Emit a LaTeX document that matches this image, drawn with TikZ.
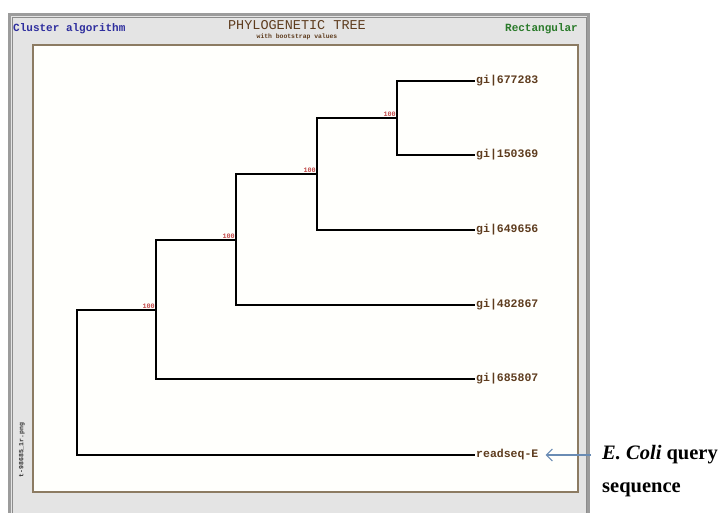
\documentclass[tikz,border=0pt]{standalone}
\usepackage{fontspec}
\usepackage{tikz}
\usetikzlibrary{arrows.meta, positioning}
\newfontfamily\treemono{Liberation Mono}
\newfontfamily\noteserif{Liberation Serif}
\definecolor{panelgray}{HTML}{E4E4E4}
\definecolor{framegray}{HTML}{9C9C9C}
\definecolor{boxbrown}{HTML}{8C7B62}
\definecolor{leafbrown}{HTML}{5E3C1E}
\definecolor{bootred}{HTML}{C04848}
\definecolor{algoblue}{HTML}{2E2E9E}
\definecolor{rectgreen}{HTML}{2A7A2A}
\definecolor{arrowblue}{HTML}{6A8CB4}
\tikzset{
  branch/.style = {line width=2pt, black},
  leaf/.style = {anchor=west, inner sep=1pt, text=leafbrown, font=\treemono\bfseries\fontsize{11.5}{12}\selectfont},
  boot/.style = {anchor=south east, inner sep=1pt, text=bootred, font=\treemono\bfseries\fontsize{6.8}{7}\selectfont},
  header/.style = {inner sep=0pt, font=\treemono\bfseries\fontsize{11}{12}\selectfont},
  note/.style = {anchor=west, inner sep=0pt, font=\noteserif\bfseries\fontsize{20.5}{22}\selectfont}
}
\begin{document}
\begin{tikzpicture}[x=1pt, y=-1pt]
	\useasboundingbox (0,0) rectangle (723,513);
	% panel and plot box
	\fill[white] (0,0) rectangle (723,513);
	\fill[panelgray] (8,13) rectangle (590,513);
	\draw[framegray, line width=3pt] (9.5,513) -- (9.5,14.5) -- (588.5,14.5) -- (588.5,513);
	\draw[black!45, line width=0.6pt] (12,513) -- (12,17) -- (586,17) -- (586,513);
	\draw[boxbrown, fill=white!99!yellow, line width=1.2pt] (33,45) rectangle (578,492);
	% header texts
	\node[header, text=algoblue, anchor=west] (algo) at (13,29) {Cluster algorithm};
	\node[header, text=leafbrown, font=\treemono\fontsize{13.5}{14}\selectfont] (title) at (297,25) {PHYLOGENETIC TREE};
	\node[inner sep=0pt, text=leafbrown, font=\treemono\bfseries\fontsize{6.4}{7}\selectfont] (subtitle) at (297,37) {with bootstrap values};
	\node[header, text=rectgreen, anchor=east] (shape) at (578,29) {Rectangular};
	\node[inner sep=0pt, rotate=90, text=black!80, font=\treemono\bfseries\fontsize{6.5}{7}\selectfont] (fname) at (22,450) {t-98685\_1r.png};
	% leaves
	\node[leaf] (l1) at (475,81) {gi|677283};
	\node[leaf] (l2) at (475,155) {gi|150369};
	\node[leaf] (l3) at (475,230) {gi|649656};
	\node[leaf] (l4) at (475,305) {gi|482867};
	\node[leaf] (l5) at (475,379) {gi|685807};
	\node[leaf] (l6) at (475,455) {readseq-E};
	% inner nodes
	\coordinate (n1) at (397,118);
	\coordinate (n2) at (317,174);
	\coordinate (n3) at (236,240);
	\coordinate (n4) at (156,310);
	\coordinate (root) at (77,383);
	% branches
	\draw[branch] (n1) |- (l1.west);
	\draw[branch] (n1) |- (l2.west);
	\draw[branch] (n2) |- (n1);
	\draw[branch] (n2) |- (l3.west);
	\draw[branch] (n3) |- (n2);
	\draw[branch] (n3) |- (l4.west);
	\draw[branch] (n4) |- (n3);
	\draw[branch] (n4) |- (l5.west);
	\draw[branch] (root) |- (n4);
	\draw[branch] (root) |- (l6.west);
	% bootstrap values
	\node[boot] (b1) at (n1) {100};
	\node[boot] (b2) at (n2) {100};
	\node[boot] (b3) at (n3) {100};
	\node[boot] (b4) at (n4) {100};
	% query note
	\node[note] (ecoli) at (602,455) {\itshape E. Coli\/\upshape\ query};
	\node[note] (ecoli2) at (602,490) {sequence};
	\draw[arrowblue, line width=1.2pt, -{Straight Barb[length=6pt, width=12pt]}, shorten <=11pt, shorten >=6pt] (ecoli.west) -- (l6.east);
\end{tikzpicture}
\end{document}
